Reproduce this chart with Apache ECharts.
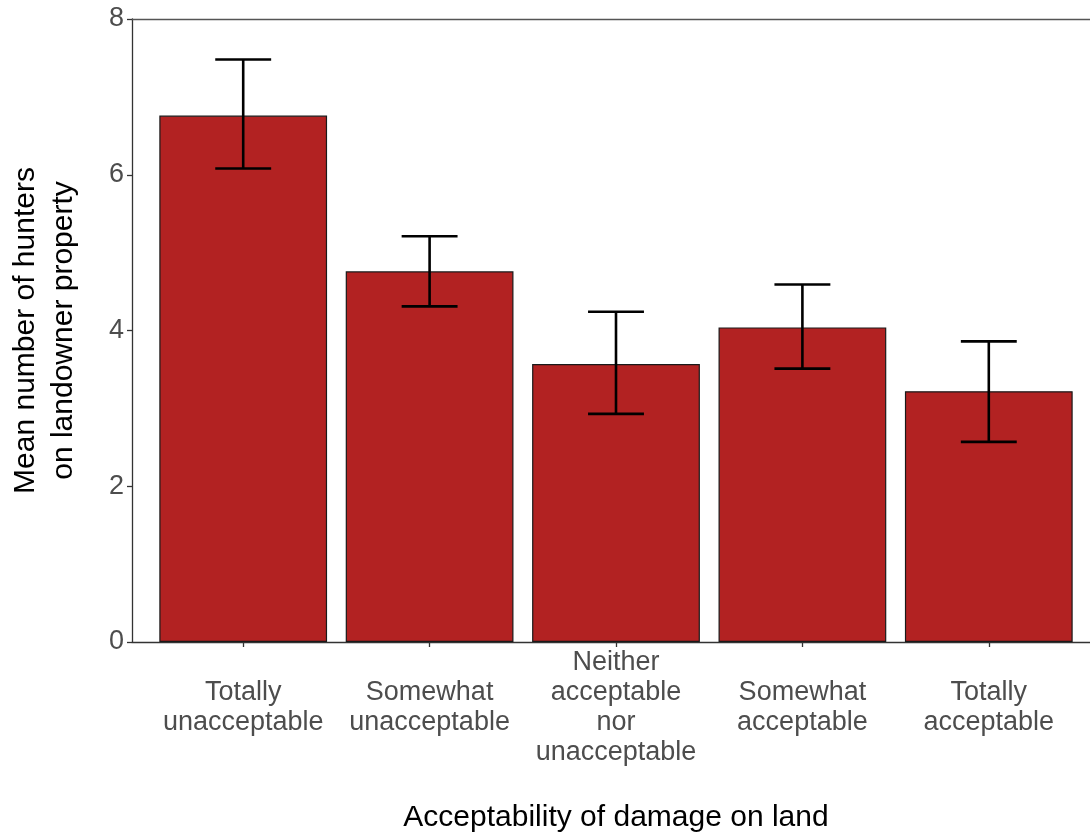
<!DOCTYPE html>
<html>
<head>
<meta charset="utf-8">
<script src="https://cdn.jsdelivr.net/npm/echarts@6/dist/echarts.min.js"></script>
<style>
html,body{margin:0;padding:0;background:#fff;}
#chart{width:1090px;height:834px;}
</style>
</head>
<body>
<div id="chart"></div>
<script>
const categories = ["Totally\nunacceptable", "Somewhat\nunacceptable", "Neither\nacceptable\nnor\nunacceptable", "Somewhat\nacceptable", "Totally\nacceptable"];
const means = [6.76, 4.76, 3.57, 4.04, 3.22];
const lower = [6.08, 4.31, 2.93, 3.51, 2.57];
const upper = [7.48, 5.21, 4.24, 4.59, 3.86];
const yTicks = { min: 0, max: 8, interval: 2 };
const xTitle = "Acceptability of damage on land";
const yTitle = "Mean number of hunters\non landowner property";

const FONT = "'Liberation Sans', Arial, sans-serif";
const chart = echarts.init(document.getElementById('chart'), null, { renderer: 'canvas' });

const errData = categories.map((c, i) => [i, lower[i], upper[i]]);

chart.setOption({
  backgroundColor: '#ffffff',
  animation: false,
  textStyle: { fontFamily: FONT },
  grid: [
    { left: 132, right: -10, top: 19, bottom: 192, containLabel: false, outerBoundsMode: 'none' },
    { left: 150, right: 8, top: 19, bottom: 192, containLabel: false, outerBoundsMode: 'none' }
  ],
  xAxis: [
    {
      type: 'value', gridIndex: 0, min: 0, max: 1, position: 'bottom',
      axisLine: { show: true, lineStyle: { color: '#333333', width: 1.3 } },
      axisTick: { show: false }, axisLabel: { show: false }, splitLine: { show: false },
      name: xTitle, nameLocation: 'middle', nameGap: 176,
      nameTextStyle: { fontSize: 30, color: '#000000', fontFamily: FONT, verticalAlign: 'middle' }
    },
    {
      type: 'value', gridIndex: 0, min: 0, max: 1, position: 'top',
      axisLine: { show: true, lineStyle: { color: '#555555', width: 1.3 } },
      axisTick: { show: false }, axisLabel: { show: false }, splitLine: { show: false }
    },
    {
      type: 'category', gridIndex: 1, data: categories, position: 'bottom',
      axisLine: { show: false },
      axisTick: { show: true, alignWithLabel: true, length: 5, lineStyle: { color: '#333333', width: 1.3 } },
      axisLabel: { interval: 0, fontSize: 27, color: '#4D4D4D', lineHeight: 30, verticalAlign: 'middle', margin: 66, fontFamily: FONT },
      splitLine: { show: false }
    }
  ],
  yAxis: [
    {
      type: 'value', gridIndex: 0, min: yTicks.min, max: yTicks.max, interval: yTicks.interval,
      axisLine: { show: true, lineStyle: { color: '#333333', width: 1.3 } },
      axisTick: { show: true, length: 5, lineStyle: { color: '#333333', width: 1.3 } },
      axisLabel: { fontSize: 27, color: '#4D4D4D', margin: 8, fontFamily: FONT },
      splitLine: { show: false },
      name: yTitle, nameLocation: 'middle', nameGap: 87, nameRotate: 90,
      nameTextStyle: { fontSize: 30, lineHeight: 38, color: '#000000', fontFamily: FONT, align: 'center', verticalAlign: 'middle' }
    },
    {
      type: 'value', gridIndex: 1, min: yTicks.min, max: yTicks.max, show: false
    }
  ],
  series: [
    {
      type: 'bar', xAxisIndex: 2, yAxisIndex: 1, data: means, barWidth: '90%',
      itemStyle: { color: '#B22222', borderColor: '#1a1a1a', borderWidth: 1.2 }
    },
    {
      type: 'custom', xAxisIndex: 2, yAxisIndex: 1, data: errData, z: 10,
      renderItem: function (params, api) {
        const idx = api.value(0);
        const lo = api.coord([idx, api.value(1)]);
        const hi = api.coord([idx, api.value(2)]);
        const half = api.size([1, 0])[0] * 0.15;
        const style = { stroke: '#000000', lineWidth: 2.6 };
        return {
          type: 'group',
          children: [
            { type: 'line', shape: { x1: lo[0], y1: lo[1], x2: hi[0], y2: hi[1] }, style: style },
            { type: 'line', shape: { x1: hi[0] - half, y1: hi[1], x2: hi[0] + half, y2: hi[1] }, style: style },
            { type: 'line', shape: { x1: lo[0] - half, y1: lo[1], x2: lo[0] + half, y2: lo[1] }, style: style }
          ]
        };
      }
    }
  ]
});
</script>
</body>
</html>
